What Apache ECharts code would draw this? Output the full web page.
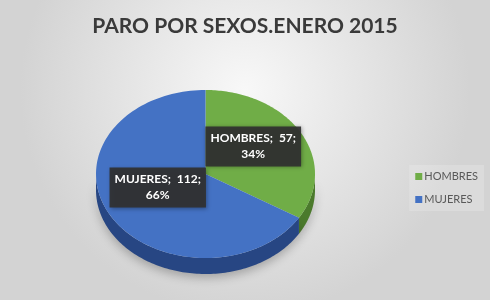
<!DOCTYPE html>
<html>
<head>
<meta charset="utf-8">
<script src="https://cdn.jsdelivr.net/npm/echarts@6/dist/echarts.min.js"></script>
<style>
html,body{margin:0;padding:0;}
#c{width:490px;height:300px;}
</style>
</head>
<body>
<div id="c"></div>
<script>
const titleText = 'PARO POR SEXOS.ENERO 2015';
const categories = ['HOMBRES', 'MUJERES'];
const values = [57, 112];
const topColors = ['#70ad47', '#4472c4'];
const sideColors = ['#4b7a2c', '#274683'];

const total = values.reduce((a, b) => a + b, 0);
const DEPTH = 16;

function makeRender(k) {
  return function (params, api) {
    let start = 0;
    for (let i = 0; i < k; i++) start += values[i];
    const a0 = start / total * Math.PI * 2;
    const a1 = (start + api.value(1)) / total * Math.PI * 2;
    const pt = t => api.coord([Math.sin(t), Math.cos(t)]);
    const N = 120;
    const children = [];
    const s0 = Math.max(a0, Math.PI / 2), s1 = Math.min(a1, Math.PI * 1.5);
    if (s1 > s0) {
      const up = [], low = [];
      for (let i = 0; i <= N; i++) {
        const p = pt(s0 + (s1 - s0) * i / N);
        up.push(p);
        low.push([p[0], p[1] + DEPTH]);
      }
      children.push({
        type: 'polygon',
        shape: { points: up.concat(low.reverse()) },
        style: { fill: sideColors[k], shadowBlur: 10, shadowColor: 'rgba(0,0,0,0.25)', shadowOffsetY: 4 },
        z2: 1
      });
    }
    const top = [api.coord([0, 0])];
    for (let i = 0; i <= N; i++) top.push(pt(a0 + (a1 - a0) * i / N));
    children.push({
      type: 'polygon',
      shape: { points: top },
      style: { fill: topColors[k] },
      z2: 10
    });
    const mid = (a0 + a1) / 2;
    const lp = api.coord([0.5 * Math.sin(mid), 0.5 * Math.cos(mid)]);
    const pct = Math.round(api.value(1) / total * 100) + '%';
    children.push({
      type: 'text',
      x: lp[0],
      y: lp[1] - 7,
      z2: 100,
      style: {
        text: categories[k] + ';  ' + api.value(1) + ';\n' + pct,
        fill: '#ffffff',
        font: 'bold 12px Lato',
        align: 'center',
        verticalAlign: 'middle',
        lineHeight: 16,
        backgroundColor: 'rgba(48,48,48,0.93)',
        padding: [4, 5, 4, 5],
        shadowBlur: 4,
        shadowColor: 'rgba(0,0,0,0.35)',
        shadowOffsetX: 1,
        shadowOffsetY: 1
      }
    });
    return { type: 'group', children: children };
  };
}

const chart = echarts.init(document.getElementById('c'), null, { renderer: 'canvas' });
chart.setOption({
  animation: false,
  backgroundColor: {
    type: 'radial', x: 0.5, y: 0.3, r: 0.75,
    colorStops: [{ offset: 0, color: '#f8f8f8' }, { offset: 1, color: '#d3d3d3' }]
  },
  title: {
    text: titleText,
    left: 'center',
    top: 11,
    textStyle: { fontFamily: 'Lato', fontWeight: 'bold', fontSize: 21, color: '#3a3a3a' }
  },
  legend: {
    orient: 'vertical',
    right: 6,
    top: 165,
    icon: 'rect',
    itemWidth: 7,
    itemHeight: 7,
    itemGap: 12,
    padding: [6, 6, 6, 6],
    backgroundColor: 'rgba(255,255,255,0.18)',
    textStyle: { color: '#595959', fontSize: 11, fontFamily: 'Lato', padding: [0, 0, 0, -3] },
    data: categories
  },
  grid: { left: 96, right: 175, top: 90, bottom: 42 },
  xAxis: { type: 'value', min: -1, max: 1, show: false },
  yAxis: { type: 'value', min: -1, max: 1, show: false },
  series: categories.map((name, k) => ({
    type: 'custom',
    name: name,
    coordinateSystem: 'cartesian2d',
    itemStyle: { color: topColors[k] },
    renderItem: makeRender(k),
    encode: { x: 0, y: -1 },
    data: [[0, values[k]]]
  }))
});
</script>
</body>
</html>
